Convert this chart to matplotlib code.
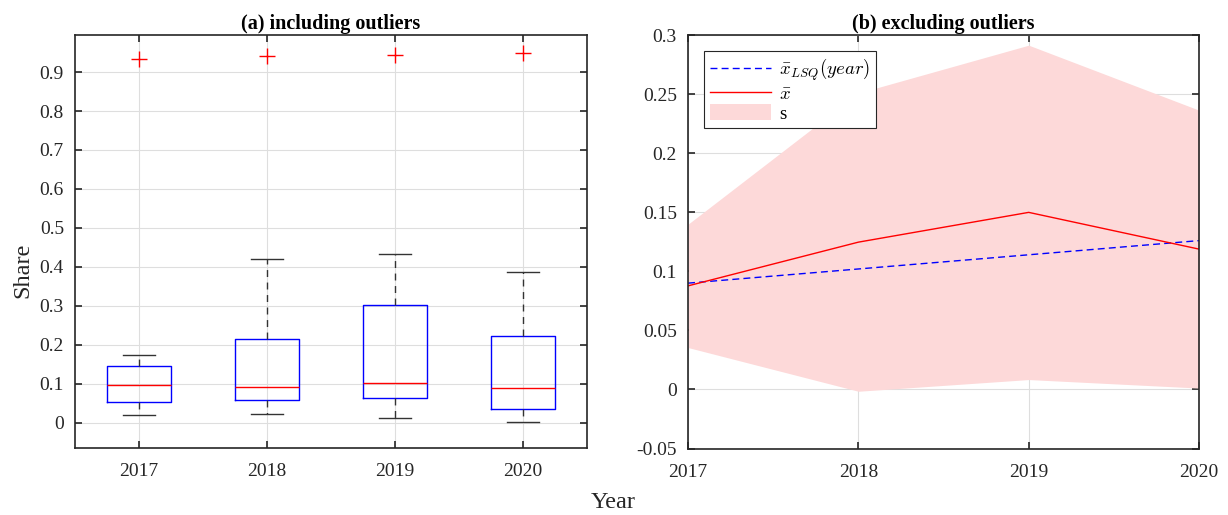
import numpy as np
import matplotlib.pyplot as plt

plt.rcParams['font.family'] = ['Liberation Serif', 'DejaVu Serif']
plt.rcParams['mathtext.fontset'] = 'cm'

years = [2017, 2018, 2019, 2020]

# box statistics per year (share)
whislo = [0.0205, 0.0214, 0.0128, 0.0026]
q1 = [0.052, 0.059, 0.064, 0.036]
med = [0.0975, 0.092, 0.103, 0.090]
q3 = [0.145, 0.215, 0.303, 0.223]
whishi = [0.173, 0.419, 0.433, 0.387]
outliers = [0.934, 0.941, 0.945, 0.948]

# mean, std and least-squares trend without outliers
mean_share = [0.0877, 0.1247, 0.1499, 0.1188]
std_share = [0.0522, 0.1262, 0.1415, 0.1176]
lsq_share = [0.090, 0.102, 0.114, 0.126]

axis_col = '#262626'
grid_col = '#dedede'

fig = plt.figure(figsize=(12.28, 5.15), dpi=100)
ax1 = fig.add_axes([0.0611, 0.130, 0.4169, 0.802])
ax2 = fig.add_axes([0.5603, 0.129, 0.4161, 0.803])

# (a) boxplot
stats = []
for i in range(len(years)):
    stats.append(dict(whislo=whislo[i], q1=q1[i], med=med[i], q3=q3[i],
                      whishi=whishi[i], fliers=[outliers[i]]))
ax1.bxp(stats, positions=[1, 2, 3, 4], widths=0.5, capwidths=0.25,
        boxprops=dict(color='#0000ff', lw=1.0),
        medianprops=dict(color='#ff0000', lw=1.0),
        whiskerprops=dict(color='#333333', lw=1.0, ls=(0, (5, 4))),
        capprops=dict(color='#333333', lw=1.0),
        flierprops=dict(marker='+', markeredgecolor='#ff0000', markersize=11,
                        markeredgewidth=1.0, linestyle='none'))
ax1.set_xlim(0.5, 4.5)
ax1.set_ylim(-0.065, 0.995)
ax1.set_xticks([1, 2, 3, 4])
ax1.set_xticklabels([str(y) for y in years])
ax1.set_yticks(np.arange(0, 0.95, 0.1))
ax1.set_yticklabels(['0'] + ['%.1f' % v for v in np.arange(0.1, 0.95, 0.1)])
ax1.set_title('(a) including outliers', fontsize=14.5, fontweight='bold', pad=4)

# (b) mean +/- std and trend
m = np.array(mean_share)
s = np.array(std_share)
ax2.fill_between(years, m - s, m + s, color='#fdd9d9', lw=0, label='s')
ax2.plot(years, lsq_share, color='#0000ff', lw=1.0, ls=(0, (5, 3)),
         label=r'$\bar{x}_{LSQ}(year)$')
ax2.plot(years, mean_share, color='#ff0000', lw=1.0, label=r'$\bar{x}$')
ax2.set_xlim(2017, 2020)
ax2.set_ylim(-0.05, 0.3)
ax2.set_xticks(years)
ax2.set_yticks(np.arange(-0.05, 0.301, 0.05))
ax2.set_yticklabels(['-0.05', '0', '0.05', '0.1', '0.15', '0.2', '0.25', '0.3'])
ax2.set_title('(b) excluding outliers', fontsize=14.5, fontweight='bold', pad=4)
h, l = ax2.get_legend_handles_labels()
leg = ax2.legend([h[1], h[2], h[0]], [l[1], l[2], l[0]], loc='upper left',
                 bbox_to_anchor=(0.031, 0.961), borderaxespad=0, fontsize=13.5,
                 fancybox=False, framealpha=1, edgecolor=axis_col, borderpad=0.3,
                 handlelength=3.3, handleheight=0.9, handletextpad=0.4,
                 labelspacing=0.08)
leg.get_frame().set_linewidth(0.8)

for ax in (ax1, ax2):
    ax.grid(True, color=grid_col, lw=0.8)
    ax.set_axisbelow(True)
    ax.tick_params(direction='in', top=True, right=True, length=5,
                   width=1.2, labelsize=14, colors=axis_col)
    ax.tick_params(axis='x', pad=11)
    ax.tick_params(axis='y', pad=8)
    for sp in ax.spines.values():
        sp.set_color(axis_col)
        sp.set_linewidth(1.2)

fig.text(0.019, 0.475, 'Share', rotation=90, fontsize=17.5, color=axis_col,
         ha='center', va='center')
fig.text(0.499, 0.025, 'Year', fontsize=17.5, color=axis_col,
         ha='center', va='center')

fig.savefig('out.png', dpi=100)
